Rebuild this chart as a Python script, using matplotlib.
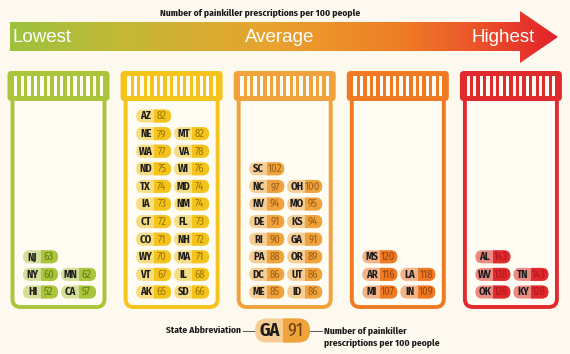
import matplotlib
matplotlib.use("Agg")
import matplotlib.pyplot as plt
import numpy as np
from matplotlib.patches import FancyBboxPatch, Rectangle, Polygon, BoxStyle
from matplotlib.colors import LinearSegmentedColormap

# ---------------- data ----------------
title = "Number of painkiller prescriptions per 100 people"
scale_labels = ["Lowest", "Average", "Highest"]

b1_states = ["HI", "CA", "NY", "MN", "NJ"]
b1_values = [52, 57, 60, 62, 63]
b2_states = ["AK", "SD", "VT", "IL", "WY", "MA", "CO", "NH", "CT", "FL", "IA", "NM",
             "TX", "MD", "ND", "WI", "WA", "VA", "NE", "MT", "AZ"]
b2_values = [65, 66, 67, 68, 70, 71, 71, 72, 72, 73, 73, 74, 74, 74, 75, 76, 77, 78, 79, 82, 82]
b3_states = ["ME", "ID", "DC", "UT", "PA", "OR", "RI", "GA", "DE", "KS", "NV", "MO", "NC", "OH", "SC"]
b3_values = [85, 86, 86, 86, 88, 89, 90, 91, 91, 94, 94, 95, 97, 100, 102]
b4_states = ["MI", "IN", "AR", "LA", "MS"]
b4_values = [107, 109, 116, 118, 120]
b5_states = ["OK", "KY", "WV", "TN", "AL"]
b5_values = [128, 128, 138, 143, 143]

legend_state = "GA"
legend_value = 91
legend_left = "State Abbreviation"
legend_right = ["Number of painkiller", "prescriptions per 100 people"]

# ---------------- style ----------------
BG = "#fdf9ee"
main_cols = ["#aac43b", "#f4c41c", "#f0a23c", "#ee7b24", "#e02a2d"]
light_cols = ["#d3df99", "#f7dd82", "#f6cd93", "#f2b388", "#ea8a82"]
num_cols = ["#5e7c18", "#9c7600", "#9a5d16", "#98440c", "#b3141b"]
NARROW = ["Fira Sans Condensed", "Roboto Condensed", "DejaVu Sans"]
WIDE = ["Liberation Sans", "DejaVu Sans"]

bottles = [(b1_states, b1_values), (b2_states, b2_values), (b3_states, b3_values),
           (b4_states, b4_values), (b5_states, b5_values)]

W, H = 570, 354
fig = plt.figure(figsize=(W / 100, H / 100), dpi=100, facecolor=BG)
ax = fig.add_axes([0, 0, 1, 1])
ax.set_xlim(0, W)
ax.set_ylim(H, 0)
ax.axis("off")
ax.set_facecolor(BG)

# ---------------- gradient arrow ----------------
cmap = LinearSegmentedColormap.from_list(
    "arr", [(0, "#9cc23f"), (0.2, "#c3b936"), (0.48, "#e9a22e"),
            (0.71, "#ef7e26"), (0.84, "#ec582a"), (1.0, "#e2222b")])
x0a, x1a = 10, 558
grad = np.linspace(0, 1, 512).reshape(1, -1)
im = ax.imshow(grad, cmap=cmap, aspect="auto", extent=(x0a, x1a, 63, 11), zorder=1)
arrow = Polygon([(x0a, 22), (520, 22), (520, 11), (x1a, 37), (520, 63), (520, 51), (x0a, 51)],
                closed=True, transform=ax.transData, facecolor="none", edgecolor="none")
ax.add_patch(arrow)
im.set_clip_path(arrow)
ax.set_xlim(0, W)
ax.set_ylim(H, 0)

ax.text(260, 13, title, ha="center", va="center", fontsize=6.9, fontweight="bold",
        family=NARROW, color="#1a1a1a")
ax.text(12, 37.5, scale_labels[0], ha="left", va="center", fontsize=13.5, color="white",
        family=WIDE)
ax.text(280, 37.5, scale_labels[1], ha="center", va="center", fontsize=13.5, color="white",
        family=WIDE)
ax.text(535, 37.5, scale_labels[2], ha="right", va="center", fontsize=13.5, color="white",
        family=WIDE)


# ---------------- helpers ----------------
def pill(cx, cy, w, h, light, dark, s, v, ncol, fs, split=0.5):
    x0, y0 = cx - w / 2, cy - h / 2
    style = BoxStyle.Round(pad=0, rounding_size=h / 2)
    p1 = FancyBboxPatch((x0, y0), w, h, boxstyle=style, facecolor=light, edgecolor="none", zorder=4)
    ax.add_patch(p1)
    p2 = FancyBboxPatch((x0, y0), w, h, boxstyle=style, facecolor=dark, edgecolor="none", zorder=5)
    ax.add_patch(p2)
    xs = x0 + w * split
    clip = Rectangle((xs, y0 - 2), w, h + 4, transform=ax.transData)
    p2.set_clip_path(clip)
    ax.text(x0 + w * split / 2 + 0.8, cy + 0.3, s, ha="center", va="center", fontsize=fs,
            fontweight="bold", family=NARROW, color="#1c1c1c", zorder=6)
    ax.text(xs + w * (1 - split) / 2 - 0.5, cy + 0.3, str(v), ha="center", va="center",
            fontsize=fs, family=NARROW, color=ncol, zorder=6)


# ---------------- bottles ----------------
cap_w, cap_h, cap_top = 102, 30, 71
body_w, body_bottom = 92, 307
row0, row_dy = 292, 17.6
pill_w, pill_h = 35, 13
n_stripes = 14

for i, (states, values) in enumerate(bottles):
    bc = 58.5 + 113.1 * i
    col = main_cols[i]
    body = FancyBboxPatch((bc - body_w / 2, cap_top + 20), body_w, body_bottom - cap_top - 20,
                          boxstyle=BoxStyle.Round(pad=0, rounding_size=8),
                          facecolor="#fffcf4", edgecolor=col, linewidth=2.8, zorder=2)
    ax.add_patch(body)
    cap = FancyBboxPatch((bc - cap_w / 2, cap_top), cap_w, cap_h,
                         boxstyle=BoxStyle.Round(pad=0, rounding_size=4),
                         facecolor=col, edgecolor="none", zorder=3)
    ax.add_patch(cap)
    inner_l, inner_r = bc - cap_w / 2 + 5, bc + cap_w / 2 - 5
    period = (inner_r - inner_l) / n_stripes
    for k in range(n_stripes):
        sx = inner_l + k * period + period * 0.25
        ax.add_patch(Rectangle((sx, cap_top + 5), period * 0.5, cap_h - 10,
                               facecolor="#fffcf4", edgecolor="none", zorder=3.5))
    for j, (s, v) in enumerate(zip(states, values)):
        r, c = divmod(j, 2)
        cx = bc + (-18 if c == 0 else 20)
        cy = row0 - r * row_dy
        pill(cx, cy, pill_w, pill_h, light_cols[i], col, s, v, num_cols[i], 7.6)

# ---------------- legend ----------------
lg_cx, lg_cy = 282.5, 330.5
pill(lg_cx, lg_cy, 55, 24, light_cols[2], main_cols[2], legend_state, legend_value,
     "#6b3f0e", 13)
ax.plot([243, 255], [lg_cy, lg_cy], color="#555555", lw=0.7, zorder=3)
ax.plot([310, 322], [lg_cy, lg_cy], color="#555555", lw=0.7, zorder=3)
ax.text(241, lg_cy, legend_left, ha="right", va="center", fontsize=6.9, fontweight="bold",
        family=NARROW, color="#1c1c1c")
ax.text(324, lg_cy, legend_right[0], ha="left", va="center", fontsize=6.9, fontweight="bold",
        family=NARROW, color="#1c1c1c")
ax.text(324, lg_cy + 12.5, legend_right[1], ha="left", va="center", fontsize=6.9, fontweight="bold",
        family=NARROW, color="#1c1c1c")

fig.savefig("out.png", dpi=100, facecolor=BG)
